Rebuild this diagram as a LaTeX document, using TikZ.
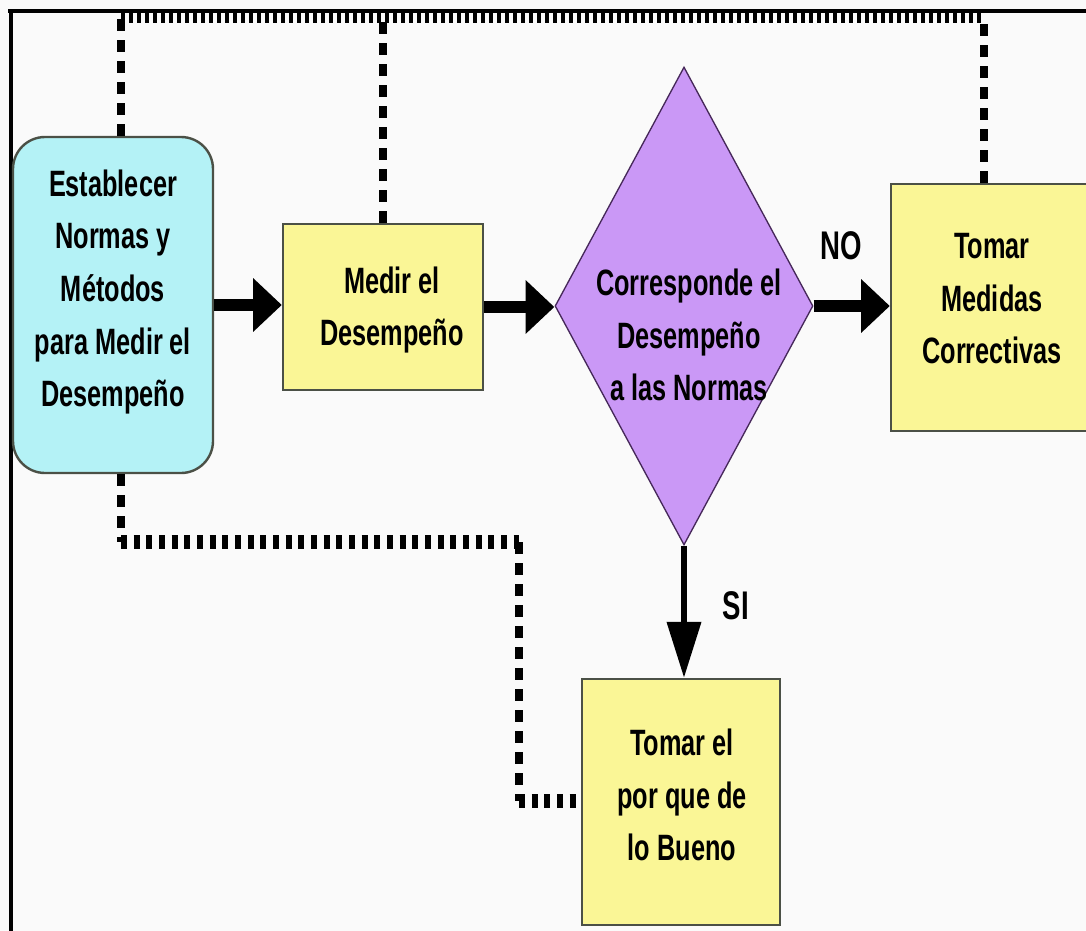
\documentclass[tikz,border=0pt]{standalone}
\usepackage{fontspec}
\newfontfamily\flowfont[FakeStretch=0.69]{Liberation Sans}
\usetikzlibrary{arrows.meta,shapes.geometric}

\definecolor{paper}{RGB}{250,250,250}
\definecolor{boxcyan}{RGB}{180,242,246}
\definecolor{boxyellow}{RGB}{250,246,150}
\definecolor{boxviolet}{RGB}{202,152,246}
\definecolor{edgegray}{RGB}{75,80,70}
\definecolor{edgeviolet}{RGB}{70,40,90}

\begin{document}
\begin{tikzpicture}[x=0.75pt, y=-0.75pt,
  lbl/.style={font=\flowfont\bfseries\fontsize{27.5}{39.4}\selectfont, align=center, inner sep=0pt, text=black},
  tag/.style={font=\flowfont\bfseries\fontsize{30}{34}\selectfont, inner sep=0pt},
  startbox/.style={draw=edgegray, line width=1.8pt, fill=boxcyan, rounded corners=24pt, inner sep=0pt},
  actbox/.style={draw=edgegray, line width=1.8pt, fill=boxyellow, inner sep=0pt},
  decide/.style={diamond, draw=edgeviolet, line width=1pt, fill=boxviolet, inner sep=0pt},
  harrow/.style={line width=9.5pt, -{Triangle[length=21.5pt,width=39pt]}},
  varrow/.style={line width=4.5pt, -{Triangle[length=42pt,width=25pt]}},
  vdots/.style={line width=5.5pt, dash pattern=on 9pt off 6.75pt},
  hdots/.style={line width=10pt, dash pattern=on 4.5pt off 5pt},
  topdots/.style={line width=7.5pt, dash pattern=on 3pt off 3pt},
  frameline/.style={line width=3pt, black}]

\useasboundingbox (0,0) rectangle (1086,931);
\clip (0,0) rectangle (1086,931);
\fill[paper] (0,0) rectangle (1086,931);

% frame edges
\draw[frameline] (8,11.5) -- (1090,11.5);
\draw[frameline] (10.5,10) -- (10.5,935);

% process shapes
\node[startbox, minimum width=150pt, minimum height=252pt] (est) at (113,305) {};
\node[actbox, minimum width=150pt, minimum height=124.5pt] (medir) at (383,307) {};
\node[decide, minimum width=193.5pt, minimum height=358.5pt] (dia) at (684,306) {};
\node[actbox, minimum width=149.25pt, minimum height=185.25pt] (corr) at (990.5,307.5) {};
\node[actbox, minimum width=148.5pt, minimum height=184.5pt] (bueno) at (681,802) {};

% feedback routes
\coordinate (tl) at (121,18);
\coordinate (tr) at (984,18);
\coordinate (bl) at (121,542);
\coordinate (br) at (519,542);
\coordinate (bd) at (519,801);

\draw[vdots] (est.north -| tl) -- (tl);
\draw[topdots] (tl) -- (tr);
\draw[vdots] (medir.north) -- (medir.north |- tl);
\draw[vdots] (corr.north -| tr) -- (tr);

\draw[vdots] (est.south -| bl) -- (bl);
\draw[hdots] (bl) -- (br);
\draw[vdots] (br) -- (bd);
\draw[hdots] (bd) -- (bd -| bueno.west);

% main flow
\draw[harrow] (est.east) -- (est.east -| medir.west);
\draw[harrow] (medir.east) -- (medir.east -| dia.west);
\draw[harrow] (dia.east) -- (dia.east -| corr.west);
\draw[varrow] (dia.south) -- (dia.south |- bueno.north);

% texts
\node[lbl] (est-t) at (113,292) {Establecer\\Normas y\\Métodos\\para Medir el\\Desempeño};
\node[lbl] (medir-t) at (392,310) {Medir el\\Desempeño};
\node[lbl] (dia-t) at (689,335) {Corresponde el\\Desempeño\\a las Normas};
\node[lbl] (corr-t) at (992,299) {Tomar\\Medidas\\Correctivas};
\node[lbl] (bueno-t) at (682,795) {Tomar el\\por que de\\lo Bueno};

\node[tag] (no) at (841,246) {NO};
\node[tag] (si) at (736,606) {SI};
\end{tikzpicture}
\end{document}
